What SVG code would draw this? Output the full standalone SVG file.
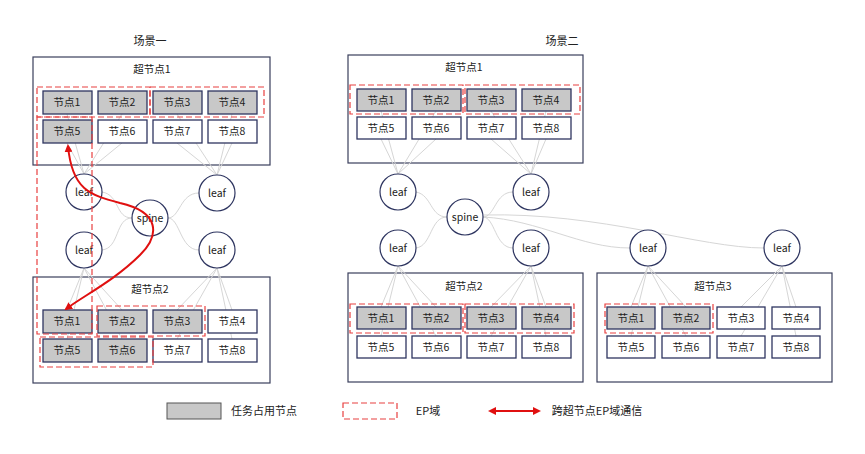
<svg xmlns="http://www.w3.org/2000/svg" width="865" height="454" viewBox="0 0 865 454">
<style>
text{font-family:"Noto Sans CJK SC","Liberation Sans",sans-serif;font-size:10.5px;fill:#222;text-anchor:middle}
.sn{fill:#fff;stroke:#3a3f5c;stroke-width:1.2}
.n{fill:#fff;stroke:#2e3560;stroke-width:1.3}
.g{fill:#c8c8c8;stroke:#2e3560;stroke-width:1.3}
.ep{fill:none;stroke:#e84040;stroke-width:1.2;stroke-dasharray:6,3}
.lf{fill:#fff;stroke:#2e3560;stroke-width:1.2}
.c line,.c path{stroke:#d6d6d6;stroke-width:1;fill:none}
.t{font-size:11px}
</style>
<defs>
<marker id="ah" markerWidth="8" markerHeight="8" refX="6" refY="4" orient="auto-start-reverse" markerUnits="userSpaceOnUse"><path d="M0,0 L8,4 L0,8 z" fill="#e01010"/></marker>
</defs>
<text x="150" y="45" class="t">场景一</text>
<text x="562" y="45" class="t">场景二</text>
<g id="s1-sn1"><rect class="sn" x="33" y="57" width="237" height="108"/><text x="152" y="73">超节点1</text></g>
<g id="s1-sn2"><rect class="sn" x="33" y="277" width="237" height="106"/><text x="150" y="293">超节点2</text></g>
<g id="s2-sn1"><rect class="sn" x="348" y="55" width="235" height="108"/><text x="464" y="71">超节点1</text></g>
<g id="s2-sn2"><rect class="sn" x="348" y="273" width="235" height="109"/><text x="464" y="290">超节点2</text></g>
<g id="s2-sn3"><rect class="sn" x="597" y="273" width="235" height="109"/><text x="713" y="290">超节点3</text></g>
<g class="c" id="connectors">
<line x1="84" y1="174" x2="67" y2="143"/><line x1="84" y1="174" x2="122" y2="143"/><line x1="84" y1="174" x2="67" y2="114"/><line x1="84" y1="174" x2="122" y2="114"/>
<line x1="217" y1="175" x2="177" y2="143"/><line x1="217" y1="175" x2="232" y2="143"/><line x1="217" y1="175" x2="177" y2="114"/><line x1="217" y1="175" x2="232" y2="114"/>
<line x1="84" y1="268" x2="67" y2="310"/><line x1="84" y1="268" x2="122" y2="310"/><line x1="84" y1="268" x2="67" y2="339"/><line x1="84" y1="268" x2="122" y2="339"/>
<line x1="217" y1="268" x2="177" y2="310"/><line x1="217" y1="268" x2="232" y2="310"/><line x1="217" y1="268" x2="177" y2="339"/><line x1="217" y1="268" x2="232" y2="339"/>
<path d="M102,192 C120,195 115,218 132,218"/><path d="M102,250 C120,248 115,218 132,218"/><path d="M199,193 C180,193 180,218 168,218"/><path d="M199,250 C180,250 180,218 168,218"/>
<line x1="398" y1="174" x2="381" y2="111"/><line x1="398" y1="174" x2="436" y2="111"/><line x1="398" y1="174" x2="381" y2="139"/><line x1="398" y1="174" x2="436" y2="139"/>
<line x1="531" y1="174" x2="491" y2="111"/><line x1="531" y1="174" x2="546" y2="111"/><line x1="531" y1="174" x2="491" y2="139"/><line x1="531" y1="174" x2="546" y2="139"/>
<line x1="398" y1="266" x2="381" y2="307"/><line x1="398" y1="266" x2="436" y2="307"/><line x1="398" y1="266" x2="381" y2="336"/><line x1="398" y1="266" x2="436" y2="336"/>
<line x1="531" y1="266" x2="491" y2="307"/><line x1="531" y1="266" x2="546" y2="307"/><line x1="531" y1="266" x2="491" y2="336"/><line x1="531" y1="266" x2="546" y2="336"/>
<line x1="648" y1="266" x2="631" y2="307"/><line x1="648" y1="266" x2="686" y2="307"/><line x1="648" y1="266" x2="631" y2="336"/><line x1="648" y1="266" x2="686" y2="336"/>
<line x1="782" y1="266" x2="741" y2="307"/><line x1="782" y1="266" x2="796" y2="307"/><line x1="782" y1="266" x2="741" y2="336"/><line x1="782" y1="266" x2="796" y2="336"/>
<path d="M416,192 C432,195 430,217 447,217"/><path d="M416,248 C432,246 430,217 447,217"/><path d="M513,192 C495,192 495,217 483,217"/><path d="M513,248 C495,248 495,217 483,217"/>
<path d="M483,217 C540,220 580,248 630,248"/><path d="M483,215 C600,212 700,248 764,248"/>
</g>
<g id="s1-nodes">
<rect class="g" x="43" y="91" width="49" height="23"/><text x="67" y="106">节点1</text>
<rect class="g" x="98" y="91" width="49" height="23"/><text x="122" y="106">节点2</text>
<rect class="g" x="153" y="91" width="49" height="23"/><text x="177" y="106">节点3</text>
<rect class="g" x="208" y="91" width="49" height="23"/><text x="232" y="106">节点4</text>
<rect class="g" x="43" y="120" width="49" height="23"/><text x="67" y="135">节点5</text>
<rect class="n" x="98" y="120" width="49" height="23"/><text x="122" y="135">节点6</text>
<rect class="n" x="153" y="120" width="49" height="23"/><text x="177" y="135">节点7</text>
<rect class="n" x="208" y="120" width="49" height="23"/><text x="232" y="135">节点8</text>
<rect class="g" x="43" y="310" width="49" height="23"/><text x="67" y="325">节点1</text>
<rect class="g" x="98" y="310" width="49" height="23"/><text x="122" y="325">节点2</text>
<rect class="g" x="153" y="310" width="49" height="23"/><text x="177" y="325">节点3</text>
<rect class="n" x="208" y="310" width="49" height="23"/><text x="232" y="325">节点4</text>
<rect class="g" x="43" y="339" width="49" height="23"/><text x="67" y="354">节点5</text>
<rect class="g" x="98" y="339" width="49" height="23"/><text x="122" y="354">节点6</text>
<rect class="n" x="153" y="339" width="49" height="23"/><text x="177" y="354">节点7</text>
<rect class="n" x="208" y="339" width="49" height="23"/><text x="232" y="354">节点8</text>
</g>
<g id="s2-nodes">
<rect class="g" x="357" y="89" width="49" height="22"/><text x="381" y="104">节点1</text>
<rect class="g" x="412" y="89" width="49" height="22"/><text x="436" y="104">节点2</text>
<rect class="g" x="467" y="89" width="49" height="22"/><text x="491" y="104">节点3</text>
<rect class="g" x="522" y="89" width="49" height="22"/><text x="546" y="104">节点4</text>
<rect class="n" x="357" y="117" width="49" height="22"/><text x="381" y="132">节点5</text>
<rect class="n" x="412" y="117" width="49" height="22"/><text x="436" y="132">节点6</text>
<rect class="n" x="467" y="117" width="49" height="22"/><text x="491" y="132">节点7</text>
<rect class="n" x="522" y="117" width="49" height="22"/><text x="546" y="132">节点8</text>
<rect class="g" x="357" y="307" width="49" height="22"/><text x="381" y="322">节点1</text>
<rect class="g" x="412" y="307" width="49" height="22"/><text x="436" y="322">节点2</text>
<rect class="g" x="467" y="307" width="49" height="22"/><text x="491" y="322">节点3</text>
<rect class="g" x="522" y="307" width="49" height="22"/><text x="546" y="322">节点4</text>
<rect class="n" x="357" y="336" width="49" height="22"/><text x="381" y="351">节点5</text>
<rect class="n" x="412" y="336" width="49" height="22"/><text x="436" y="351">节点6</text>
<rect class="n" x="467" y="336" width="49" height="22"/><text x="491" y="351">节点7</text>
<rect class="n" x="522" y="336" width="49" height="22"/><text x="546" y="351">节点8</text>
<rect class="g" x="607" y="307" width="48" height="22"/><text x="631" y="322">节点1</text>
<rect class="g" x="662" y="307" width="48" height="22"/><text x="686" y="322">节点2</text>
<rect class="n" x="717" y="307" width="48" height="22"/><text x="741" y="322">节点3</text>
<rect class="n" x="772" y="307" width="48" height="22"/><text x="796" y="322">节点4</text>
<rect class="n" x="607" y="336" width="48" height="22"/><text x="631" y="351">节点5</text>
<rect class="n" x="662" y="336" width="48" height="22"/><text x="686" y="351">节点6</text>
<rect class="n" x="717" y="336" width="48" height="22"/><text x="741" y="351">节点7</text>
<rect class="n" x="772" y="336" width="48" height="22"/><text x="796" y="351">节点8</text>
</g>
<g id="switches">
<circle class="lf" cx="84" cy="192" r="18"/><text x="84" y="196">leaf</text>
<circle class="lf" cx="84" cy="250" r="18"/><text x="84" y="254">leaf</text>
<circle class="lf" cx="150" cy="218" r="18"/><text x="150" y="222">spine</text>
<circle class="lf" cx="217" cy="193" r="18"/><text x="217" y="197">leaf</text>
<circle class="lf" cx="217" cy="250" r="18"/><text x="217" y="254">leaf</text>
<circle class="lf" cx="398" cy="192" r="18"/><text x="398" y="196">leaf</text>
<circle class="lf" cx="531" cy="192" r="18"/><text x="531" y="196">leaf</text>
<circle class="lf" cx="465" cy="217" r="18"/><text x="465" y="221">spine</text>
<circle class="lf" cx="398" cy="248" r="18"/><text x="398" y="252">leaf</text>
<circle class="lf" cx="531" cy="248" r="18"/><text x="531" y="252">leaf</text>
<circle class="lf" cx="648" cy="248" r="18"/><text x="648" y="252">leaf</text>
<circle class="lf" cx="782" cy="248" r="18"/><text x="782" y="252">leaf</text>
</g>
<g id="ep-domains">
<rect class="ep" x="37" y="87" width="113" height="30"/><rect class="ep" x="150" y="87" width="114" height="30"/>
<rect class="ep" x="37" y="117" width="55" height="217"/>
<rect class="ep" x="97" y="306" width="108" height="30"/><rect class="ep" x="40" y="337" width="113" height="30"/>
<rect class="ep" x="350" y="85" width="113" height="29"/><rect class="ep" x="465" y="85" width="115" height="29"/>
<rect class="ep" x="350" y="304" width="113" height="29"/><rect class="ep" x="465" y="304" width="109" height="29"/>
<rect class="ep" x="605" y="304" width="108" height="29"/>
</g>
<g id="cross-arrow">
<path d="M68,146 C72,190 90,195 120,203 C160,212 160,235 140,255 C115,280 85,295 66,309" fill="none" stroke="#e01010" stroke-width="2" marker-start="url(#ah)" marker-end="url(#ah)"/>
</g>
<g id="legend">
<rect x="167" y="403" width="54" height="16" fill="#c8c8c8" stroke="#555" stroke-width="1"/><text x="264" y="415" class="t">任务占用节点</text>
<rect class="ep" x="343" y="403" width="54" height="16"/><text x="428" y="415" class="t">EP域</text>
<line x1="490" y1="411" x2="539" y2="411" stroke="#e01010" stroke-width="2" marker-start="url(#ah)" marker-end="url(#ah)"/>
<text x="597" y="415" class="t">跨超节点EP域通信</text>
</g>
</svg>
